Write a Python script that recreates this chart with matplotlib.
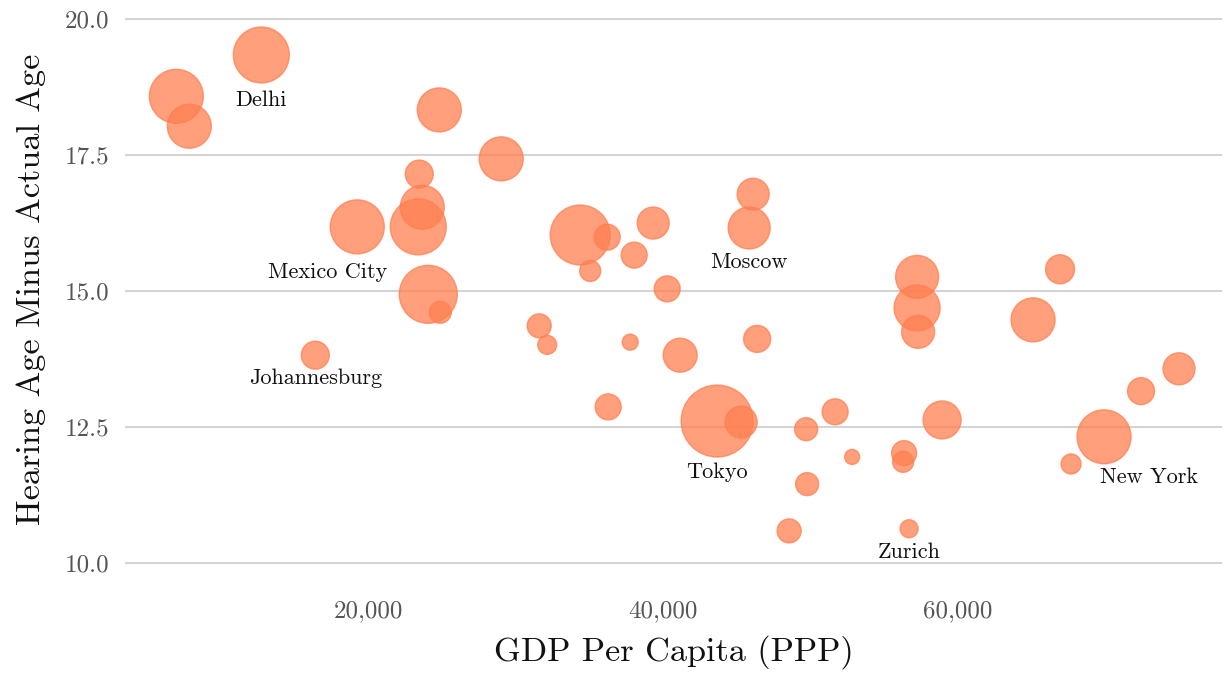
import matplotlib
matplotlib.use("Agg")
import matplotlib.pyplot as plt
from matplotlib.ticker import FuncFormatter

# ---- data ----
gdp = [6983, 7864, 12746, 23458, 24814, 23661, 23390, 19254, 24068, 24881,
       29017, 16407, 34373, 36203, 35051, 38034, 39322, 40271, 31593, 32136,
       37763, 41153, 46373, 46102, 45831, 36271, 43661, 45288, 49695, 51661,
       52814, 49763, 48542, 56678, 56339, 56271, 58915, 57220, 57220, 57288,
       65085, 66915, 69898, 67661, 72407, 74983]
hearing_gap = [18.58, 18.03, 19.34, 17.15, 18.33, 16.54, 16.18, 16.18, 14.94, 14.61,
               17.43, 13.82, 16.03, 15.99, 15.37, 15.66, 16.25, 15.04, 14.36, 14.01,
               14.06, 13.82, 14.12, 16.78, 16.16, 12.87, 12.61, 12.59, 12.46, 12.78,
               11.95, 11.45, 10.59, 10.63, 12.02, 11.86, 12.63, 15.26, 14.69, 14.25,
               14.47, 15.40, 12.32, 11.82, 13.16, 13.57]
bubble_size = [1512, 1004, 1626, 406, 1004, 1004, 1626, 1512, 1744, 251,
               1004, 406, 1866, 350, 229, 350, 531, 350, 299, 187,
               133, 599, 378, 531, 914, 350, 2687, 531, 274, 350,
               117, 274, 299, 168, 324, 229, 749, 958, 1097, 564,
               1004, 436, 1512, 207, 378, 531]

label_cities = ["Delhi", "Mexico City", "Johannesburg", "Moscow", "Tokyo", "Zurich", "New York"]
label_gdp = [12746, 19254, 16407, 45831, 43661, 56678, 69898]
label_gap = [19.34, 16.18, 13.82, 16.16, 12.61, 10.63, 12.32]
label_offsets = [(0, -37), (-21.6, -37), (0, -21), (0, -29), (0, -41), (0, -21), (32.4, -33)]

x_ticks = [20000, 40000, 60000]
y_ticks = [10.0, 12.5, 15.0, 17.5, 20.0]

plt.rcParams['font.family'] = ['cmr10', 'DejaVu Serif']
plt.rcParams['axes.unicode_minus'] = False
plt.rcParams['axes.formatter.use_mathtext'] = False

fig = plt.figure(figsize=(12.24, 6.75), dpi=100)
ax = fig.add_axes([0.1021, 0.1230, 0.8963, 0.8592])

ax.scatter(gdp, hearing_gap, s=bubble_size, color='#FF7F50', alpha=0.75,
           edgecolors='#FF7F50', linewidths=1.0, zorder=3)

for name, x, y, off in zip(label_cities, label_gdp, label_gap, label_offsets):
    ax.annotate(name, (x, y), xytext=off, textcoords='offset points',
                ha='center', va='baseline', fontsize=16, color='#111111', zorder=4)

ax.set_xlim(3500, 77900)
ax.set_ylim(9.467, 20.13)
ax.set_xticks(x_ticks)
ax.set_yticks(y_ticks)
ax.xaxis.set_major_formatter(FuncFormatter(lambda v, p: f"{int(v):,}"))
ax.yaxis.set_major_formatter(FuncFormatter(lambda v, p: f"{v:.1f}"))

for s in ax.spines.values():
    s.set_visible(False)
ax.grid(axis='y', color='#d4d4d4', linewidth=1.5, zorder=0)
ax.set_axisbelow(True)
ax.tick_params(axis='both', length=0, labelsize=18, labelcolor='#555555')
ax.tick_params(axis='y', pad=11)
ax.tick_params(axis='x', pad=6)

ax.set_xlabel("GDP Per Capita (PPP)", fontsize=24.7, color='#111111')
ax.set_ylabel("Hearing Age Minus Actual Age", fontsize=24.7, color='#111111')
ax.xaxis.set_label_coords(0.5, -0.074)
ax.yaxis.set_label_coords(-0.072, 0.5216)

fig.savefig("out.png", dpi=100)
